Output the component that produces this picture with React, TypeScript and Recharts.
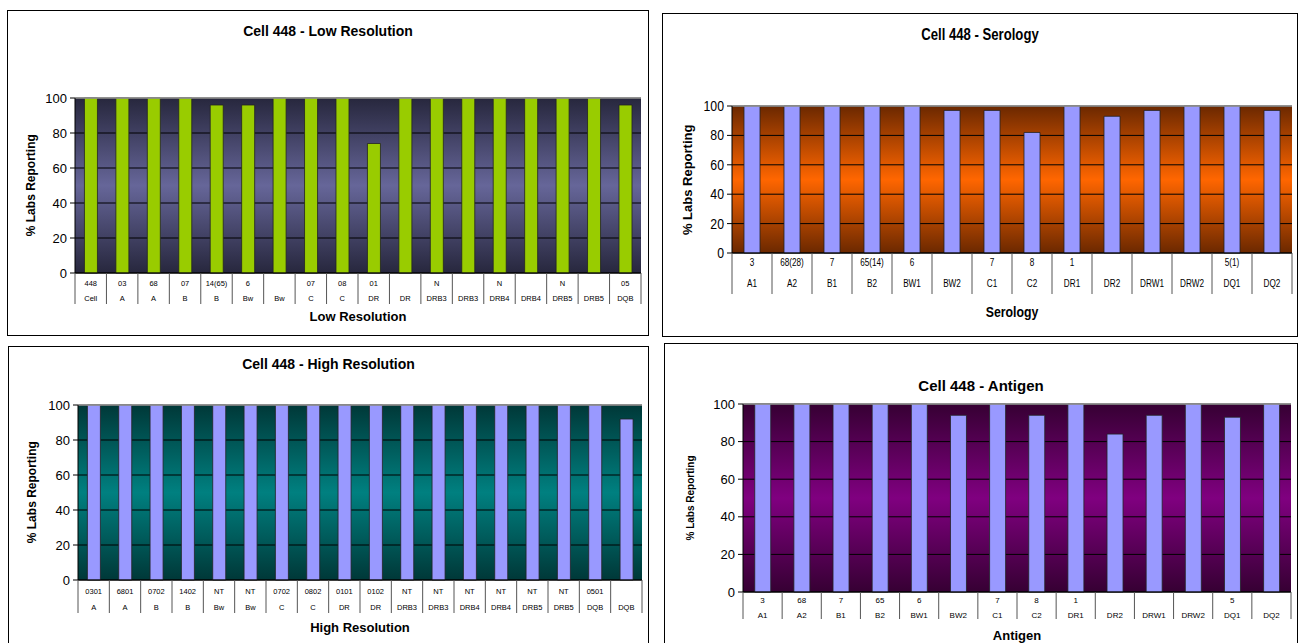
import React from 'react';
import { BarChart, Bar, XAxis, YAxis, CartesianGrid, ReferenceLine } from 'recharts';

// Cell 448 proficiency summary, % of labs reporting each typing
const lowResLoci = ['Cell', 'A', 'A', 'B', 'B', 'Bw', 'Bw', 'C', 'C', 'DR', 'DR', 'DRB3', 'DRB3', 'DRB4', 'DRB4', 'DRB5', 'DRB5', 'DQB'];
const lowResAlleles = ['448', '03', '68', '07', '14(65)', '6', '', '07', '08', '01', '', 'N', '', 'N', '', 'N', '', '05'];
const lowResValues = [100, 100, 100, 100, 96, 96, 100, 100, 100, 74, 100, 100, 100, 100, 100, 100, 100, 96];

const serologyLoci = ['A1', 'A2', 'B1', 'B2', 'BW1', 'BW2', 'C1', 'C2', 'DR1', 'DR2', 'DRW1', 'DRW2', 'DQ1', 'DQ2'];
const serologyAlleles = ['3', '68(28)', '7', '65(14)', '6', '', '7', '8', '1', '', '', '', '5(1)', ''];
const serologyValues = [100, 100, 100, 100, 100, 97, 97, 82, 100, 93, 97, 100, 100, 97];

const highResLoci = ['A', 'A', 'B', 'B', 'Bw', 'Bw', 'C', 'C', 'DR', 'DR', 'DRB3', 'DRB3', 'DRB4', 'DRB4', 'DRB5', 'DRB5', 'DQB', 'DQB'];
const highResAlleles = ['0301', '6801', '0702', '1402', 'NT', 'NT', '0702', '0802', '0101', '0102', 'NT', 'NT', 'NT', 'NT', 'NT', 'NT', '0501', ''];
const highResValues = [100, 100, 100, 100, 100, 100, 100, 100, 100, 100, 100, 100, 100, 100, 100, 100, 100, 92];

const antigenLoci = ['A1', 'A2', 'B1', 'B2', 'BW1', 'BW2', 'C1', 'C2', 'DR1', 'DR2', 'DRW1', 'DRW2', 'DQ1', 'DQ2'];
const antigenAlleles = ['3', '68', '7', '65', '6', '', '7', '8', '1', '', '', '', '5', ''];
const antigenValues = [100, 100, 100, 100, 100, 94, 100, 94, 100, 84, 94, 100, 93, 100];

const yTicks = [0, 20, 40, 60, 80, 100];

const SANS = 'Arial, "Liberation Sans", sans-serif';

function buildRows(loci: string[], alleles: string[], values: number[]) {
  return loci.map((locus, i) => ({ id: String(i), locus, allele: alleles[i], value: values[i] }));
}

interface PanelProps {
  id: string;
  box: { left: number; top: number; width: number; height: number };
  plot: { left: number; top: number; right: number; bottom: number };
  tableH: number;
  rowY: [number, number];
  title: string;
  titleY: number;
  titleSize: number;
  axisTitle: string;
  axisTitleY: number;
  axisTitleSize: number;
  yLabel: { x: number; size: number };
  yTickSize: number;
  cellSize: number;
  squeeze: number; // horizontal squash, mimics the narrow face of the serology chart
  shades: [string, string];
  barColor: string;
  loci: string[];
  alleles: string[];
  values: number[];
}

function Panel(p: PanelProps) {
  const rows = buildRows(p.loci, p.alleles, p.values);
  const plotW = p.plot.right - p.plot.left;
  const band = plotW / rows.length;
  const axisY = p.plot.bottom;
  const cy = (p.plot.top + p.plot.bottom) / 2;
  const gradId = `bg-${p.id}`;
  const sq = p.squeeze;

  const renderTick = (props: any) => {
    const { x, payload } = props;
    const i = Number(payload.value);
    const row = rows[i];
    const left = x - band / 2;
    return (
      <g>
        <line x1={left} x2={left} y1={axisY} y2={axisY + p.tableH} stroke="#555" strokeWidth={1} />
        {i === rows.length - 1 && (
          <line x1={left + band} x2={left + band} y1={axisY} y2={axisY + p.tableH} stroke="#555" strokeWidth={1} />
        )}
        <text transform={`translate(${x},${axisY + p.rowY[0]}) scale(${sq},1)`} textAnchor="middle"
          dominantBaseline="central" fontSize={p.cellSize} fontFamily={SANS} fill="#000">{row.allele}</text>
        <text transform={`translate(${x},${axisY + p.rowY[1]}) scale(${sq},1)`} textAnchor="middle"
          dominantBaseline="central" fontSize={p.cellSize} fontFamily={SANS} fill="#000">{row.locus}</text>
      </g>
    );
  };

  const renderYTick = (props: any) => {
    const { x, y, payload } = props;
    return (
      <text transform={`translate(${x},${y}) scale(${sq},1)`} textAnchor="end" dominantBaseline="central"
        fontSize={p.yTickSize} fontFamily={SANS} fill="#000">{payload.value}</text>
    );
  };

  return (
    <div style={{
      position: 'absolute', left: p.box.left, top: p.box.top, width: p.box.width, height: p.box.height,
      border: '1px solid #000', boxSizing: 'border-box', background: '#fff', overflow: 'hidden',
    }}>
      <div style={{
        position: 'absolute', left: 0, width: '100%', top: p.titleY, transform: `translateY(-50%) scaleX(${sq})`,
        textAlign: 'center', fontFamily: SANS, fontWeight: 'bold', fontSize: p.titleSize, lineHeight: 1,
      }}>{p.title}</div>
      <div style={{
        position: 'absolute', left: p.yLabel.x - 80, top: cy - p.yLabel.size * 0.6,
        width: 160, height: p.yLabel.size * 1.2, lineHeight: `${p.yLabel.size * 1.2}px`,
        transform: 'rotate(-90deg)', whiteSpace: 'nowrap', textAlign: 'center',
        fontFamily: SANS, fontWeight: 'bold', fontSize: p.yLabel.size,
      }}>% Labs Reporting</div>
      <div style={{
        position: 'absolute', left: p.plot.left, width: plotW, top: p.axisTitleY, transform: `translateY(-50%) scaleX(${sq})`,
        textAlign: 'center', fontFamily: SANS, fontWeight: 'bold', fontSize: p.axisTitleSize, lineHeight: 1,
      }}>{p.axisTitle}</div>
      <div style={{ position: 'absolute', left: 0, top: 0 }}>
        <BarChart
          width={p.box.width}
          height={p.box.height}
          data={rows}
          margin={{
            top: p.plot.top, left: 0, right: p.box.width - p.plot.right,
            bottom: p.box.height - p.plot.bottom - p.tableH,
          }}
          barCategoryGap="30%"
        >
          <defs>
            <linearGradient id={gradId} x1="0" y1="0" x2="0" y2="1">
              <stop offset="0%" stopColor={p.shades[0]} />
              <stop offset="50%" stopColor={p.shades[1]} />
              <stop offset="100%" stopColor={p.shades[0]} />
            </linearGradient>
          </defs>
          <CartesianGrid vertical={false} stroke="#000" strokeWidth={1} fill={`url(#${gradId})`} fillOpacity={1} />
          <ReferenceLine y={100} stroke="#999" strokeWidth={1.5} />
          <XAxis
            dataKey="id"
            type="category"
            interval={0}
            height={p.tableH}
            tickLine={false}
            tickSize={0}
            tickMargin={0}
            axisLine={{ stroke: '#000' }}
            tick={renderTick}
          />
          <YAxis
            domain={[0, 100]}
            ticks={yTicks}
            width={p.plot.left}
            tickSize={5}
            tickMargin={3}
            axisLine={{ stroke: '#000' }}
            tickLine={{ stroke: '#000' }}
            tick={renderYTick}
          />
          <Bar dataKey="value" fill={p.barColor} stroke="#222" strokeWidth={0.8} isAnimationActive={false} />
        </BarChart>
      </div>
    </div>
  );
}

export default function App() {
  return (
    <div style={{ position: 'absolute', left: 0, top: 0, width: 1299, height: 643, background: '#fff', overflow: 'hidden' }}>
      <Panel
        id="low"
        box={{ left: 7, top: 10, width: 642, height: 326 }}
        plot={{ left: 67, top: 87, right: 633, bottom: 262 }}
        tableH={31}
        rowY={[10, 25]}
        title="Cell 448 - Low Resolution"
        titleY={20}
        titleSize={14}
        axisTitle="Low Resolution"
        axisTitleY={305}
        axisTitleSize={13}
        yLabel={{ x: 23, size: 12 }}
        yTickSize={13}
        cellSize={7.5}
        squeeze={1}
        shades={['#27273d', '#666699']}
        barColor="#99cc00"
        loci={lowResLoci}
        alleles={lowResAlleles}
        values={lowResValues}
      />
      <Panel
        id="sero"
        box={{ left: 662, top: 13, width: 636, height: 324 }}
        plot={{ left: 69, top: 92, right: 629, bottom: 239 }}
        tableH={41}
        rowY={[10, 31]}
        title="Cell 448 - Serology"
        titleY={21}
        titleSize={16}
        axisTitle="Serology"
        axisTitleY={297}
        axisTitleSize={15}
        yLabel={{ x: 25, size: 13 }}
        yTickSize={15}
        cellSize={10}
        squeeze={0.82}
        shades={['#6b2800', '#ff6600']}
        barColor="#9999ff"
        loci={serologyLoci}
        alleles={serologyAlleles}
        values={serologyValues}
      />
      <Panel
        id="high"
        box={{ left: 8, top: 346, width: 641, height: 305 }}
        plot={{ left: 69, top: 58, right: 633, bottom: 233 }}
        tableH={33}
        rowY={[11, 27]}
        title="Cell 448 - High Resolution"
        titleY={17}
        titleSize={14}
        axisTitle="High Resolution"
        axisTitleY={280}
        axisTitleSize={13}
        yLabel={{ x: 23, size: 12 }}
        yTickSize={13}
        cellSize={7.5}
        squeeze={1}
        shades={['#003838', '#008080']}
        barColor="#9999ff"
        loci={highResLoci}
        alleles={highResAlleles}
        values={highResValues}
      />
      <Panel
        id="antigen"
        box={{ left: 664, top: 343, width: 634, height: 310 }}
        plot={{ left: 78, top: 60, right: 626, bottom: 248 }}
        tableH={27}
        rowY={[8, 23]}
        title="Cell 448 - Antigen"
        titleY={41}
        titleSize={15}
        axisTitle="Antigen"
        axisTitleY={291}
        axisTitleSize={13}
        yLabel={{ x: 26, size: 10 }}
        yTickSize={13}
        cellSize={8}
        squeeze={1}
        shades={['#360033', '#800080']}
        barColor="#9999ff"
        loci={antigenLoci}
        alleles={antigenAlleles}
        values={antigenValues}
      />
    </div>
  );
}
